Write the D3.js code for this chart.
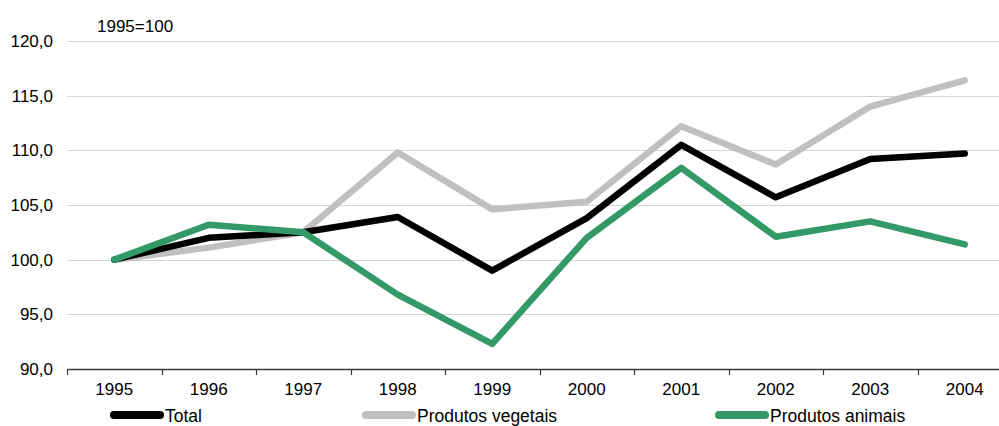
<!DOCTYPE html>
<html>
<head>
<meta charset="utf-8">
<script src="https://cdn.jsdelivr.net/npm/d3@7"></script>
<style>
  html, body { margin: 0; padding: 0; background: #fff; }
  svg { display: block; font-family: "Liberation Sans", Arial, sans-serif; }
</style>
</head>
<body>
<svg id="chart" width="999" height="426"></svg>
<script>
// Índices de produção (1995=100)
const years = ["1995", "1996", "1997", "1998", "1999", "2000", "2001", "2002", "2003", "2004"];
const total = [100.0, 102.0, 102.5, 103.9, 99.0, 103.8, 110.5, 105.7, 109.2, 109.7];
const vegetais = [100.0, 101.1, 102.5, 109.8, 104.6, 105.3, 112.2, 108.7, 114.0, 116.4];
const animais = [100.0, 103.2, 102.5, 96.8, 92.3, 102.0, 108.4, 102.1, 103.5, 101.4];
const yTicks = [90, 95, 100, 105, 110, 115, 120];

const seriesList = [
  { name: "Total", values: total, color: "#000000" },
  { name: "Produtos vegetais", values: vegetais, color: "#c0c0c0" },
  { name: "Produtos animais", values: animais, color: "#339966" }
];
// drawing order: grey first, then black, green on top
const drawOrder = [1, 0, 2];

const svg = d3.select("#chart");
const plotLeft = 67, plotRight = 1012, plotTop = 41, plotBottom = 369;

const x = d3.scaleBand().domain(years).range([plotLeft, plotRight]).padding(0);
const y = d3.scaleLinear().domain([90, 120]).range([plotBottom, plotTop]);

const pt = d3.formatLocale({ decimal: ",", thousands: ".", grouping: [3], currency: ["", "€"] });
const fmt = pt.format(".1f");

// horizontal gridlines
svg.append("g")
  .selectAll("line")
  .data(yTicks.filter(d => d > 90))
  .join("line")
  .attr("x1", plotLeft).attr("x2", plotRight)
  .attr("y1", d => Math.round(y(d)) + 0.5).attr("y2", d => Math.round(y(d)) + 0.5)
  .attr("stroke", "#d4d4d4").attr("stroke-width", 1);

// y axis labels
const yAxis = d3.axisLeft(y).tickValues(yTicks).tickFormat(fmt).tickSize(0).tickPadding(14);
const gy = svg.append("g").attr("transform", `translate(${plotLeft},0)`).call(yAxis);
gy.select(".domain").remove();
gy.selectAll("text").attr("font-size", 17).attr("fill", "#000")
  .attr("font-family", "'Liberation Sans', Arial, sans-serif");

// x axis: baseline, boundary ticks and centred year labels
const xAxis = d3.axisBottom(x).tickSize(0).tickPadding(14).tickSizeOuter(0);
const gx = svg.append("g").attr("transform", `translate(0,${plotBottom})`).call(xAxis);
gx.select(".domain").attr("stroke", "#3a3a3a").attr("stroke-width", 1.3);
gx.selectAll("text").attr("font-size", 17).attr("fill", "#000")
  .attr("font-family", "'Liberation Sans', Arial, sans-serif");
svg.append("g")
  .selectAll("line")
  .data(years.map(d => x(d)).concat([plotRight]))
  .join("line")
  .attr("x1", d => Math.round(d) + 0.5).attr("x2", d => Math.round(d) + 0.5)
  .attr("y1", plotBottom).attr("y2", plotBottom + 6)
  .attr("stroke", "#3a3a3a").attr("stroke-width", 1.2);

// series lines
const line = d3.line()
  .x((d, i) => x(years[i]) + x.bandwidth() / 2)
  .y(d => y(d));

svg.append("g")
  .selectAll("path")
  .data(drawOrder.map(i => seriesList[i]))
  .join("path")
  .attr("d", s => line(s.values))
  .attr("fill", "none")
  .attr("stroke", s => s.color)
  .attr("stroke-width", 6.5)
  .attr("stroke-linejoin", "round")
  .attr("stroke-linecap", "round");

// base note
svg.append("text")
  .attr("x", 97).attr("y", 31.5)
  .attr("font-size", 17).attr("fill", "#000")
  .text("1995=100");

// legend
const legendX = [110, 362, 715];
const lg = svg.append("g")
  .selectAll("g")
  .data(seriesList)
  .join("g")
  .attr("transform", (d, i) => `translate(${legendX[i]},415)`);
lg.append("line")
  .attr("x1", 4).attr("x2", 50)
  .attr("y1", 0).attr("y2", 0)
  .attr("stroke", d => d.color)
  .attr("stroke-width", 8)
  .attr("stroke-linecap", "round");
lg.append("text")
  .attr("x", 55).attr("y", 6.5)
  .attr("font-size", 17.5).attr("fill", "#000")
  .text(d => d.name);
</script>
</body>
</html>
